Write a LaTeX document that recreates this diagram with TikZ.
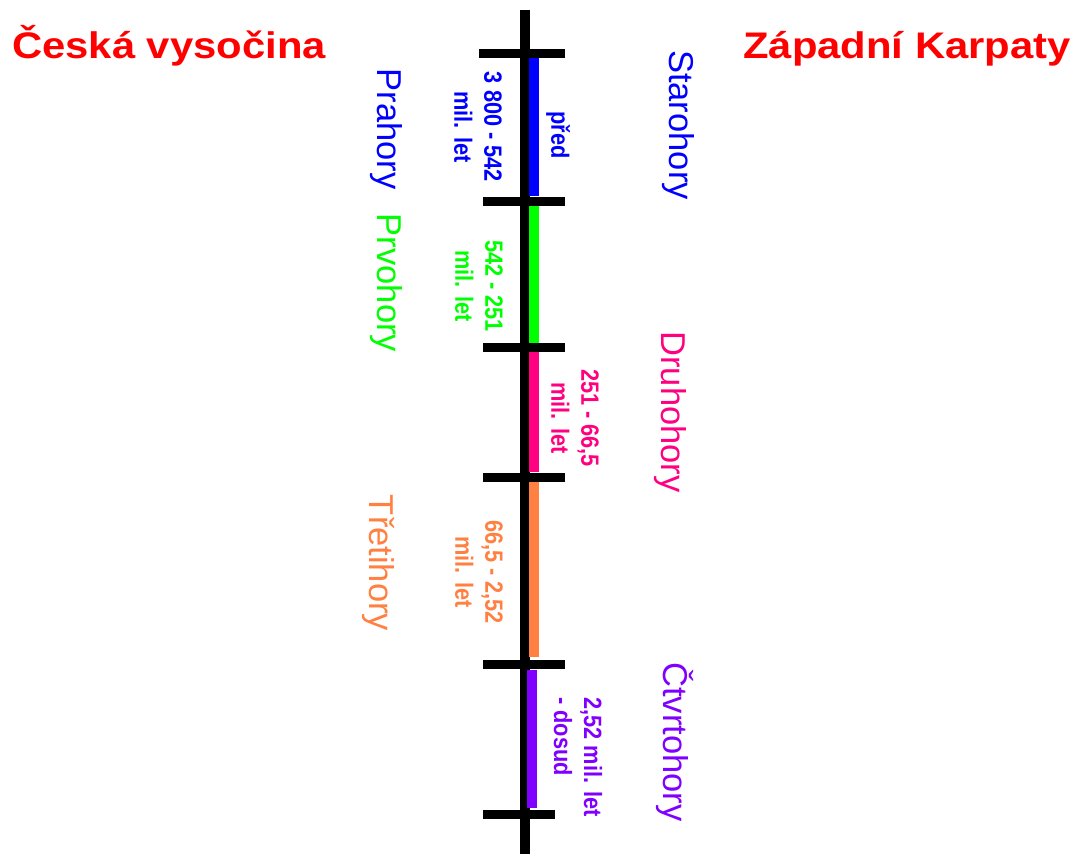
\documentclass[tikz,border=0pt]{standalone}
\usepackage{fontspec}
\setmainfont{Liberation Sans}
\newfontfamily\titlefont[FakeStretch=1.13]{Liberation Sans}
\newfontfamily\narrowfont[FakeStretch=0.87]{Liberation Sans}
\usetikzlibrary{positioning}
\definecolor{prahoryblue}{RGB}{0,0,255}
\definecolor{prvohorygreen}{RGB}{0,255,0}
\definecolor{druhohorypink}{RGB}{255,0,128}
\definecolor{tretihoryorange}{RGB}{255,128,64}
\definecolor{ctvrtohorypurple}{RGB}{128,0,255}
\begin{document}
\begin{tikzpicture}
[x=1pt,y=-1pt,
eralabel/.style = {rotate=-90, inner sep=0, font=\fontsize{34.5}{40}\selectfont},
agelabel/.style = {rotate=-90, inner sep=0, align=center, font=\narrowfont\bfseries\fontsize{25}{30}\selectfont},
region/.style = {anchor=base west, inner sep=0, text=red, font=\titlefont\bfseries\fontsize{37}{44}\selectfont},
tickbar/.style = {line width=9pt},
erabar/.style = {line width=10pt},]
\useasboundingbox (0,0) rectangle (1074,854);

\coordinate (top) at (525,10);
\coordinate (bottom) at (525,854);
\coordinate (t1) at (525,53);
\coordinate (t2) at (525,201);
\coordinate (t3) at (525,347);
\coordinate (t4) at (525,477);
\coordinate (t5) at (525,664);
\coordinate (t6) at (525,814);

\draw[line width=9.5pt] (top)--(bottom);

\draw[erabar,prahoryblue] ([xshift=9pt,yshift=-5pt]t1)--([xshift=9pt,yshift=5pt]t2);
\draw[erabar,prvohorygreen] ([xshift=9pt,yshift=-5pt]t2)--([xshift=9pt,yshift=4pt]t3);
\draw[erabar,druhohorypink] ([xshift=9pt,yshift=-5pt]t3)--([xshift=9pt,yshift=5pt]t4);
\draw[erabar,tretihoryorange] ([xshift=9pt,yshift=-5pt]t4)--([xshift=9pt,yshift=7pt]t5);
\draw[erabar,ctvrtohorypurple] ([xshift=7pt,yshift=-6pt]t5)--([xshift=7pt,yshift=6pt]t6);

\draw[tickbar] ([xshift=-46pt]t1)--([xshift=40pt]t1);
\foreach \t in {t2,t3,t4,t5}
  \draw[tickbar] ([xshift=-42pt]\t)--([xshift=40pt]\t);
\draw[tickbar] ([xshift=-42pt]t6)--([xshift=30pt]t6);

\node (ceska) at (12,58)[region] {Česká vysočina};
\node (karpaty) at (743,58)[region] {Západní Karpaty};

\node (starohory) at (678,125)[eralabel,text=prahoryblue] {Starohory};
\node (prahory) at (386,129)[eralabel,text=prahoryblue] {Prahory};
\node (prvohory) at (386,283)[eralabel,text=prvohorygreen] {Prvohory};
\node (druhohory) at (670,412)[eralabel,text=druhohorypink] {Druhohory};
\node (tretihory) at (378,563)[eralabel,text=tretihoryorange] {Třetihory};
\node (ctvrtohory) at (675,742)[eralabel,text=ctvrtohorypurple] {Čtvrtohory};

\node (age1) at (478,127)[agelabel,text=prahoryblue] {3 800 - 542\\mil. let};
\node (pred) at (558,135)[agelabel,text=prahoryblue] {před};
\node (age2) at (479,286)[agelabel,text=prvohorygreen] {542 - 251\\mil. let};
\node (age3) at (575,418)[agelabel,text=druhohorypink] {251 - 66,5\\mil. let};
\node (age4) at (479,572)[agelabel,text=tretihoryorange] {66,5 - 2,52\\mil. let};
\node (age5) at (578,757)[agelabel,align=left,text=ctvrtohorypurple] {2,52 mil. let\\- dosud};

\end{tikzpicture}
\end{document}
